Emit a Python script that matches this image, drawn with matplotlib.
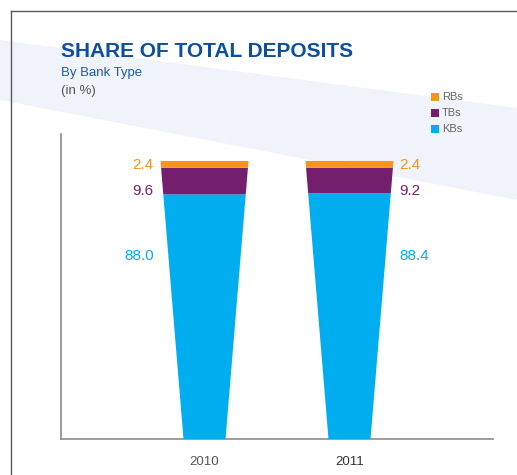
import matplotlib
matplotlib.use("Agg")
import matplotlib.pyplot as plt
from matplotlib.patches import Polygon
from matplotlib.lines import Line2D

# ---- data ----
years = ['2010', '2011']
kbs = [88.0, 88.4]
tbs = [9.6, 9.2]
rbs = [2.4, 2.4]
series_names = ['RBs', 'TBs', 'KBs']

C_RB = '#f7941d'
C_TB = '#741f6e'
C_KB = '#00aeef'

W, H = 517, 475
plt.rcParams['font.family'] = ['Liberation Sans', 'DejaVu Sans']

fig = plt.figure(figsize=(W / 100, H / 100), dpi=100)

def fx(px):
    return px / W

def fy(py):
    return 1 - py / H

# background diagonal band
band = Polygon([(fx(0), fy(40)), (fx(517), fy(108)), (fx(517), fy(200)), (fx(0), fy(100))],
               closed=True, transform=fig.transFigure, facecolor='#f0f4fa',
               edgecolor='none', zorder=-1)
fig.patches.append(band)

# outer frame lines (top and left)
fig.add_artist(Line2D([fx(11), fx(517)], [fy(11), fy(11)], color='#5a5a5a', lw=1.0))
fig.add_artist(Line2D([fx(11), fx(11)], [fy(11), fy(475)], color='#5a5a5a', lw=1.0))

# titles
fig.text(fx(61), fy(57), 'SHARE OF TOTAL DEPOSITS', fontsize=15, fontweight='bold',
         color='#0b4f9e', va='baseline', ha='left')
fig.text(fx(61), fy(76), 'By Bank Type', fontsize=9.5, color='#1f5aa6',
         va='baseline', ha='left')
fig.text(fx(61), fy(94), '(in %)', fontsize=9.5, color='#555555',
         va='baseline', ha='left')

# legend
for i, (name, col) in enumerate(zip(series_names, [C_RB, C_TB, C_KB])):
    cy = 97 + i * 16
    fig.patches.append(plt.Rectangle((fx(431), fy(cy + 4)), 8 / W, 8 / H,
                                     transform=fig.transFigure, facecolor=col,
                                     edgecolor='none'))
    fig.text(fx(442), fy(cy), name, fontsize=8, color='#666666',
             va='center', ha='left')

# axes
ax = fig.add_axes([fx(61), fy(439), (493 - 61) / W, (439 - 134) / H])
ax.set_zorder(2)
ax.set_facecolor('none')
ax.set_xlim(-0.99, 1.99)
ax.set_ylim(0, 109.7)
for s in ['top', 'right']:
    ax.spines[s].set_visible(False)
for s in ['left', 'bottom']:
    ax.spines[s].set_color('#8c8c8c')
    ax.spines[s].set_linewidth(1.2)
ax.set_yticks([])
ax.tick_params(axis='x', length=0, pad=12)
ax.set_xticks(range(len(years)))
ax.set_xticklabels(years, fontsize=9.5)
ticklabs = ax.get_xticklabels()
ticklabs[0].set_color('#555555')
ticklabs[1].set_color('#333333')

w_bottom, w_top = 0.29, 0.607

def half_width(y):
    return (w_bottom + (w_top - w_bottom) * y / 100.0) / 2

def tapered(x, y0, y1, col):
    xs = [x - half_width(y0), x + half_width(y0), x + half_width(y1), x - half_width(y1)]
    ys = [y0, y0, y1, y1]
    ax.fill(xs, ys, color=col, lw=0, zorder=3)

label_y = [98.5, 89.2, 65.8]
for i in range(len(years)):
    b = 0
    for val, col in [(kbs[i], C_KB), (tbs[i], C_TB), (rbs[i], C_RB)]:
        tapered(i, b, b + val, col)
        b += val
    if i == 0:
        lx, ha = i - 0.35, 'right'
    else:
        lx, ha = i + 0.345, 'left'
    for val, col, ly in zip([rbs[i], tbs[i], kbs[i]], [C_RB, C_TB, C_KB], label_y):
        ax.text(lx, ly, f'{val:.1f}', color=col, fontsize=11, ha=ha, va='center')

fig.savefig('out.png', dpi=100)
